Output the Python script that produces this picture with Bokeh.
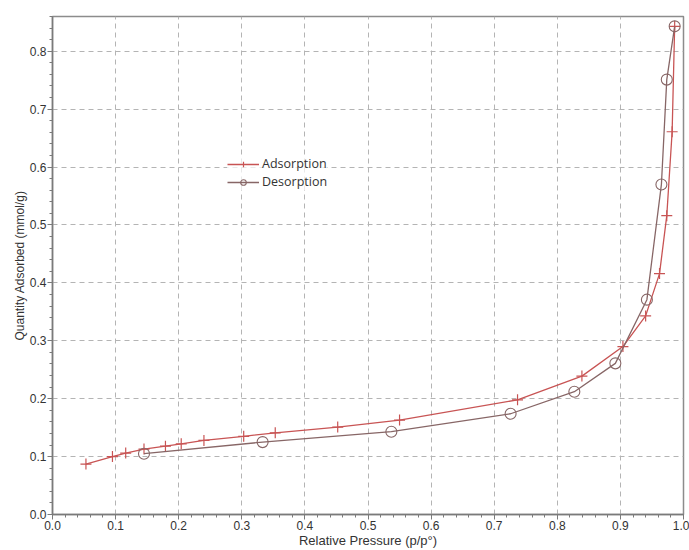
from bokeh.plotting import figure
from bokeh.models import FixedTicker, Legend, LegendItem
from bokeh.embed import file_html
from bokeh.resources import INLINE

# Adsorption branch (relative pressure, quantity adsorbed mmol/g)
ads_p = [0.053, 0.095, 0.116, 0.145, 0.179, 0.204, 0.240, 0.303, 0.353, 0.452,
         0.550, 0.737, 0.839, 0.904, 0.940, 0.962, 0.9735, 0.982, 0.986]
ads_q = [0.087, 0.100, 0.106, 0.113, 0.118, 0.122, 0.128, 0.135, 0.141, 0.151,
         0.163, 0.198, 0.239, 0.290, 0.343, 0.416, 0.516, 0.661, 0.843]

# Desorption branch
des_p = [0.986, 0.9735, 0.965, 0.942, 0.892, 0.827, 0.726, 0.537, 0.333, 0.145]
des_q = [0.843, 0.751, 0.570, 0.371, 0.261, 0.212, 0.174, 0.143, 0.125, 0.105]

x_ticks = [0.0, 0.1, 0.2, 0.3, 0.4, 0.5, 0.6, 0.7, 0.8, 0.9, 1.0]
x_tick_labels = ["0.0", "0.1", "0.2", "0.3", "0.4", "0.5", "0.6", "0.7", "0.8", "0.9", "1.0"]
y_ticks = [0.0, 0.1, 0.2, 0.3, 0.4, 0.5, 0.6, 0.7, 0.8]
y_tick_labels = ["0.0", "0.1", "0.2", "0.3", "0.4", "0.5", "0.6", "0.7", "0.8"]
minor = [round(i * 0.02, 2) for i in range(0, 51)]

ADS_COLOR = "#C85454"
DES_COLOR = "#876666"

p = figure(width=689, height=550, x_range=(0, 1.0), y_range=(0, 0.86),
           output_backend="svg", toolbar_location=None,
           min_border_left=52, min_border_right=6, min_border_top=16, min_border_bottom=36)

p.background_fill_color = "white"
p.border_fill_color = "white"
p.outline_line_color = "#8C8C8C"
p.outline_line_width = 1.5

p.xaxis.ticker = FixedTicker(ticks=x_ticks, minor_ticks=minor)
p.yaxis.ticker = FixedTicker(ticks=y_ticks, minor_ticks=minor)
p.xaxis.major_label_overrides = {t: l for t, l in zip(x_ticks, x_tick_labels)}
p.yaxis.major_label_overrides = {t: l for t, l in zip(y_ticks, y_tick_labels)}

for ax in (p.xaxis, p.yaxis):
    ax.axis_line_color = "#7A7A7A"
    ax.axis_line_width = 1.5
    ax.major_tick_line_color = "#7A7A7A"
    ax.minor_tick_line_color = "#7A7A7A"
    ax.major_tick_out = 5
    ax.major_tick_in = 0
    ax.minor_tick_out = 3
    ax.minor_tick_in = 0
    ax.major_label_text_font = "Liberation Sans"
    ax.major_label_text_font_size = "12px"
    ax.major_label_text_color = "#333333"
    ax.major_label_text_line_height = 1.0
    ax.axis_label_text_font = "Liberation Sans"
    ax.axis_label_text_font_size = "12px"
    ax.axis_label_text_font_style = "normal"
    ax.axis_label_text_color = "#333333"
    ax.axis_label_text_line_height = 1.0
    ax.major_label_standoff = 1
    ax.axis_label_standoff = 0

p.xaxis.major_label_standoff = 1
p.xaxis.axis_label_text_font_size = "13px"

p.xaxis.axis_label = "Relative Pressure (p/p°)"
p.yaxis.axis_label = "Quantity Adsorbed (mmol/g)"

for g in (p.xgrid, p.ygrid):
    g.grid_line_color = "#B4B4B4"
    g.grid_line_dash = "5 4"
    g.grid_line_width = 1
p.xgrid.ticker = FixedTicker(ticks=x_ticks)
p.ygrid.ticker = FixedTicker(ticks=y_ticks)

ads_line = p.line(ads_p, ads_q, line_color=ADS_COLOR, line_width=1.3)
ads_pts = p.scatter(ads_p, ads_q, marker="cross", size=11, line_color=ADS_COLOR, line_width=1.2)
des_line = p.line(des_p, des_q, line_color=DES_COLOR, line_width=1.3)
des_pts = p.scatter(des_p, des_q, marker="circle", size=11, line_color=DES_COLOR,
                    fill_alpha=0, line_width=1.1)

legend = Legend(items=[LegendItem(label="Adsorption", renderers=[ads_line, ads_pts]),
                       LegendItem(label="Desorption", renderers=[des_line, des_pts])],
                location=(175, 324))
legend.border_line_color = None
legend.background_fill_color = "white"
legend.background_fill_alpha = 0.7
legend.label_text_font = "Open Sans"
legend.label_text_font_size = "12.5px"
legend.label_text_color = "#333333"
legend.glyph_width = 32
legend.glyph_height = 14
legend.label_height = 14
legend.spacing = 1
legend.padding = 2
legend.margin = 0
legend.label_standoff = 3
p.add_layout(legend, "center")

open("out.html", "w").write(file_html(p, INLINE))
